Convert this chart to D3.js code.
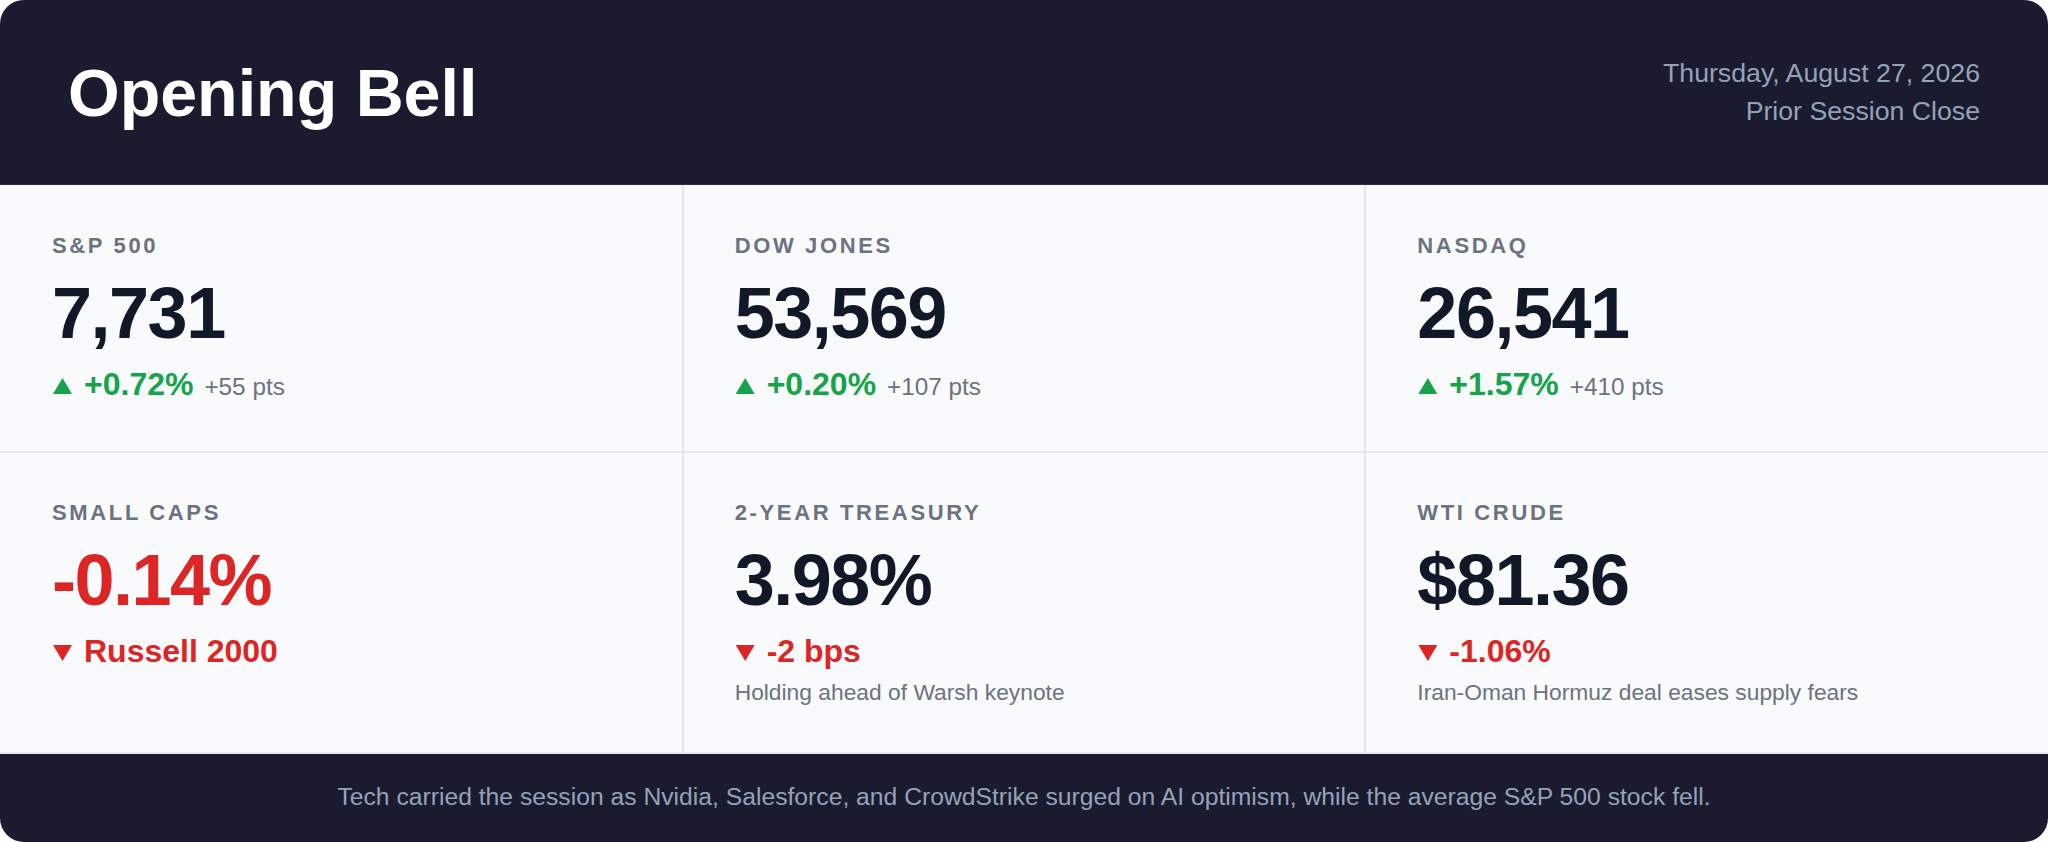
<!DOCTYPE html>
<html>
<head>
<meta charset="utf-8">
<script src="https://cdn.jsdelivr.net/npm/d3@7"></script>
<style>
	html, body { margin: 0; padding: 0; background: #ffffff; }
	svg { display: block; font-family: "Liberation Sans", Arial, Helvetica, sans-serif; }
</style>
</head>
<body>
<svg id="board" width="2048" height="842"></svg>
<script>

// Tile content, one entry per tile (row by row)
var aLabels = ['S&P 500', 'DOW JONES', 'NASDAQ', 'SMALL CAPS', '2-YEAR TREASURY', 'WTI CRUDE'];
var aValues = ['7,731', '53,569', '26,541', '-0.14%', '3.98%', '$81.36'];
var aValueTones = ['flat', 'flat', 'flat', 'down', 'flat', 'flat'];
var aChanges = ['+0.72%', '+0.20%', '+1.57%', 'Russell 2000', '-2 bps', '-1.06%'];
var aDirections = ['up', 'up', 'up', 'down', 'down', 'down'];
var aPoints = ['+55 pts', '+107 pts', '+410 pts', '', '', ''];
var aNotes = ['', '', '', '', 'Holding ahead of Warsh keynote', 'Iran-Oman Hormuz deal eases supply fears'];

var strTitle = 'Opening Bell';
var aDateLines = ['Thursday, August 27, 2026', 'Prior Session Close'];
var strFooter = 'Tech carried the session as Nvidia, Salesforce, and CrowdStrike surged on AI optimism, while the average S&P 500 stock fell.';

var colors = {
	dark: '#1a1b2e',
	cell: '#f8fafc',
	rule: '#e5e7eb',
	label: '#6b7280',
	value: '#111827',
	up: '#16a34a',
	down: '#dc2626',
	muted: '#94a3b8'
};

var sSvg = d3.select('#board');
var nWidth = 2048;
var nHeight = 842;
var nHeaderHeight = 185;
var nFooterTop = 753;
var aRowHeights = [267, 301];
var nPad = 52;
var nChangeIndent = 32;

// clip everything to the rounded card
sSvg.append('clipPath')
	.attr('id', 'card-clip')
	.append('rect')
		.attr('width', nWidth)
		.attr('height', nHeight)
		.attr('rx', 24)
		.attr('ry', 24);

var sCard = sSvg.append('g').attr('clip-path', 'url(#card-clip)');

sCard.append('rect')
	.attr('width', nWidth)
	.attr('height', nHeight)
	.attr('fill', colors.cell);

// header
sCard.append('rect')
	.attr('width', nWidth)
	.attr('height', nHeaderHeight)
	.attr('fill', colors.dark);

sCard.append('text')
	.attr('x', 68)
	.attr('y', 116)
	.attr('fill', '#ffffff')
	.attr('font-size', 66.4)
	.attr('font-weight', 700)
	.text(strTitle);

sCard.selectAll('.date-line')
	.data(aDateLines)
	.enter()
		.append('text')
			.attr('class', 'date-line')
			.attr('x', 1980)
			.attr('y', function(d, i) { return 82 + i * 38; })
			.attr('text-anchor', 'end')
			.attr('fill', colors.muted)
			.attr('font-size', 26.7)
			.text(function(d) { return d; });

// grid scales
var scaleCol = d3.scaleBand()
	.domain([0, 1, 2])
	.range([0, nWidth]);

var aRowTops = [nHeaderHeight, nHeaderHeight + aRowHeights[0]];
var scaleRow = d3.scaleOrdinal()
	.domain([0, 1])
	.range(aRowTops);

var aTiles = aLabels.map(function(strLabel, nIndex)
{
	return {
		label: strLabel,
		value: aValues[nIndex],
		tone: aValueTones[nIndex],
		change: aChanges[nIndex],
		dir: aDirections[nIndex],
		pts: aPoints[nIndex],
		note: aNotes[nIndex],
		col: nIndex % 3,
		row: Math.floor(nIndex / 3)
	};
});

var sTiles = sCard.selectAll('.tile')
	.data(aTiles)
	.enter()
		.append('g')
			.attr('class', 'tile')
			.attr('transform', function(d)
			{
				return 'translate(' + scaleCol(d.col) + ',' + scaleRow(d.row) + ')';
			});

// grid rules
sCard.selectAll('.col-rule')
	.data([1, 2])
	.enter()
		.append('rect')
			.attr('class', 'col-rule')
			.attr('x', function(d) { return Math.round(scaleCol(d)) - 1; })
			.attr('y', nHeaderHeight)
			.attr('width', 2)
			.attr('height', nFooterTop - nHeaderHeight)
			.attr('fill', colors.rule);

sCard.selectAll('.row-rule')
	.data([aRowTops[1], nFooterTop])
	.enter()
		.append('rect')
			.attr('class', 'row-rule')
			.attr('x', 0)
			.attr('y', function(d) { return d - 1; })
			.attr('width', nWidth)
			.attr('height', 2)
			.attr('fill', colors.rule);

sCard.append('rect')
	.attr('y', nHeaderHeight - 1)
	.attr('width', nWidth)
	.attr('height', 1)
	.attr('fill', '#2a2c40');

sTiles.append('text')
	.attr('x', nPad)
	.attr('y', 68)
	.attr('fill', colors.label)
	.attr('font-size', 22)
	.attr('font-weight', 700)
	.attr('letter-spacing', 2.64)
	.text(function(d) { return d.label; });

sTiles.append('text')
	.attr('x', nPad)
	.attr('y', 153)
	.attr('fill', function(d) { return d.tone == 'down' ? colors.down : colors.value; })
	.attr('font-size', 72)
	.attr('font-weight', 700)
	.attr('letter-spacing', -1.5)
	.text(function(d) { return d.value; });

// direction arrows
var lineTri = d3.line();
sTiles.append('path')
	.attr('d', function(d)
	{
		var x0 = nPad + 1, x1 = nPad + 20, yTop = 193, yBot = 209;
		if (d.dir == 'up')
		{
			return lineTri([[x0, yBot], [(x0 + x1) / 2, yTop], [x1, yBot]]) + 'Z';
		}
		return lineTri([[x0, yTop], [x1, yTop], [(x0 + x1) / 2, yBot]]) + 'Z';
	})
	.attr('fill', function(d) { return d.dir == 'up' ? colors.up : colors.down; });

var sChange = sTiles.append('text')
	.attr('class', 'change')
	.attr('x', nPad + nChangeIndent)
	.attr('y', 210)
	.attr('fill', function(d) { return d.dir == 'up' ? colors.up : colors.down; })
	.attr('font-size', 32)
	.attr('font-weight', 700)
	.text(function(d) { return d.change; });

sTiles.append('text')
	.attr('x', function(d, i)
	{
		return nPad + nChangeIndent + sChange.nodes()[i].getComputedTextLength() + 11;
	})
	.attr('y', 210)
	.attr('fill', colors.label)
	.attr('font-size', 24.3)
	.text(function(d) { return d.pts; });

sTiles.append('text')
	.attr('x', nPad)
	.attr('y', 248)
	.attr('fill', colors.label)
	.attr('font-size', 22.8)
	.text(function(d) { return d.note; });

// footer
sCard.append('rect')
	.attr('y', nFooterTop + 1)
	.attr('width', nWidth)
	.attr('height', nHeight - nFooterTop - 1)
	.attr('fill', colors.dark);

sCard.append('text')
	.attr('x', nWidth / 2)
	.attr('y', 805)
	.attr('text-anchor', 'middle')
	.attr('fill', colors.muted)
	.attr('font-size', 24.7)
	.text(strFooter);

</script>
</body>
</html>
